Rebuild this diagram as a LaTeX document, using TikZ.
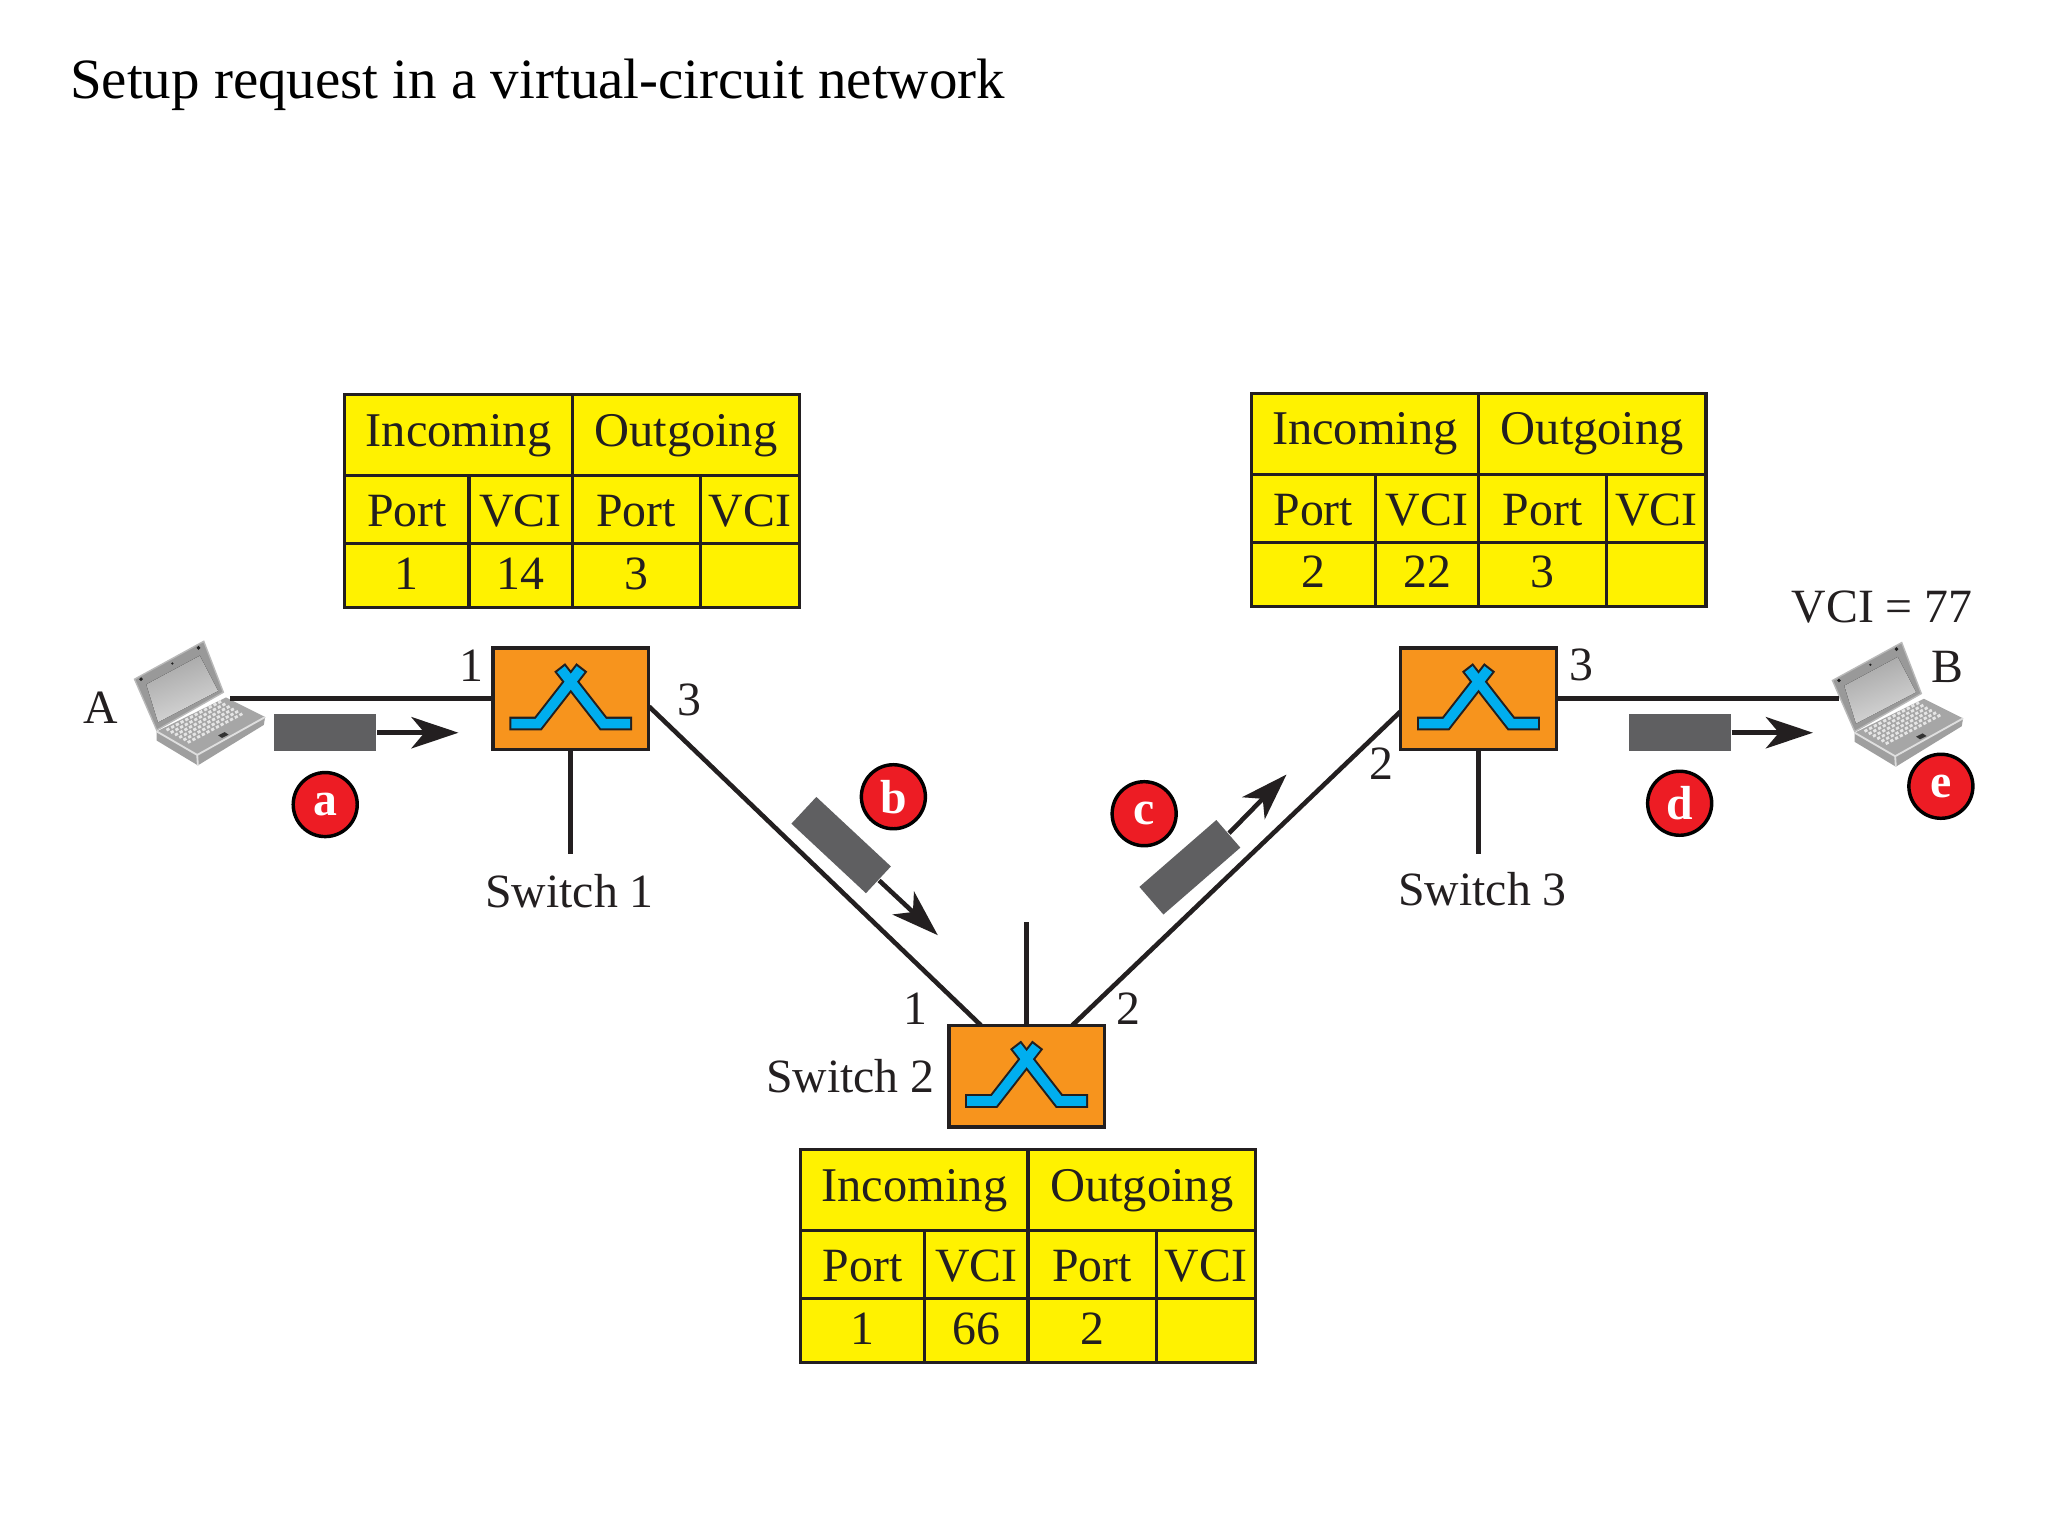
\documentclass[tikz,border=0pt]{standalone}
\usepackage{fontspec}
\setmainfont{Liberation Serif}
\usetikzlibrary{positioning,arrows.meta}

\definecolor{swOrange}{HTML}{F7941D}
\definecolor{swBlue}{HTML}{00AEEF}
\definecolor{tabYellow}{HTML}{FFF200}
\definecolor{stepRed}{HTML}{ED1C24}
\definecolor{pktGray}{HTML}{5F5F61}
\definecolor{inkBlack}{HTML}{231F20}

\tikzset{
  lbl/.style={inner sep=0pt, text=inkBlack, font=\fontsize{10.4}{12}\selectfont},
  cell/.style={draw=inkBlack, fill=tabYellow, line width=.7pt, inner sep=0pt, outer sep=0pt,
    text=inkBlack, font=\fontsize{10.4}{12}\selectfont, text height=.26cm, text depth=.05cm, anchor=north west},
  headcell/.style={cell, font=\fontsize{10.55}{12}\selectfont, text height=.25cm, text depth=.08cm, minimum width=1.74cm, minimum height=.62cm},
  namecell/.style={cell, text height=.31cm, text depth=.05cm, minimum height=.52cm},
  link/.style={draw=inkBlack, line width=1pt},
  switch/.style={draw=inkBlack, fill=swOrange, line width=.75pt, minimum width=1.19cm, minimum height=.78cm, inner sep=0pt},
  packet/.style={fill=pktGray, minimum width=.78cm, minimum height=.28cm, inner sep=0pt},
  pktarrow/.style={draw=inkBlack, line width=1pt, -{Stealth[length=.36cm,width=.24cm,inset=.1cm]}},
  stepdot/.style={circle, draw=black, fill=stepRed, line width=.75pt, minimum size=.49cm, inner sep=0pt,
    text=white, font=\fontsize{10.4}{12}\selectfont\bfseries},
  swicon/.pic={
    \draw[inkBlack, line width=3pt, miter limit=10] (-47,19) -- (-25,19) -- (8.5,-24);
    \draw[inkBlack, line width=3pt, miter limit=10] (47,19) -- (25,19) -- (-8.5,-24);
    \draw[swBlue, line width=2.1pt] (-45.5,19) -- (-25,19) -- (7.5,-22.7);
    \draw[swBlue, line width=2.1pt] (45.5,19) -- (25,19) -- (-7.5,-22.7);
  },
  laptop/.pic={
    % lid
    \fill[gray!80, draw=gray!55, line width=.3pt] (101,518) -- (154,489) -- (169,528) -- (118,557) -- cycle;
    \fill[top color=gray!70, bottom color=gray!30, shading angle=20] (110,522) -- (151,500) -- (165,527) -- (119,551) -- cycle;
    \fill[gray!25!black] (106,518) circle (1.5) (150,494) circle (1.5) (130,506) circle (1);
    % base
    \fill[gray!75] (118,558) -- (149,576) -- (201,547) -- (200,553) -- (149.5,584) -- (118,565) -- cycle;
    \fill[gray!70] (118,558) -- (171,532) -- (201,547) -- (149,576) -- cycle;
    \draw[gray!25, line width=.4pt] (118,558) -- (149,576) -- (201,547) (149,576) -- (149.5,584);
    \foreach \i in {0,...,5} \foreach \j in {0,...,11}
      \draw[gray!20, line width=.6pt] ({125.5+\i*3.25+\j*3.6},{557+\i*1.9-\j*1.9}) -- ++(2.2,-1.15);
    \fill[black!80] (165,561) -- (170,558.5) -- (173,560.5) -- (168,563) -- cycle;
  }
}

% one forwarding table, #1 name, #2 #3 top left corner, #4 #5 #6 entries
\newcommand{\vctable}[6]{
  \node[headcell] (#1inc) at (#2,#3) {Incoming};
  \node[headcell] (#1out) at (#1inc.north east) {Outgoing};
  \node[namecell, minimum width=.95cm] (#1pi) at (#1inc.south west) {Port};
  \node[namecell, minimum width=.79cm] (#1vi) at (#1pi.north east) {VCI};
  \node[namecell, minimum width=.98cm] (#1po) at (#1vi.north east) {Port};
  \node[namecell, minimum width=.76cm] (#1vo) at (#1po.north east) {VCI};
  \node[cell, minimum width=.95cm, minimum height=.49cm] (#1a) at (#1pi.south west) {#4};
  \node[cell, minimum width=.79cm, minimum height=.49cm] (#1b) at (#1a.north east) {#5};
  \node[cell, minimum width=.98cm, minimum height=.49cm] (#1c) at (#1b.north east) {#6};
  \node[cell, minimum width=.76cm, minimum height=.49cm] (#1d) at (#1c.north east) {};
}

\begin{document}
\begin{tikzpicture}[x=.01cm, y=-.01cm]
    \useasboundingbox (0,0) rectangle (1568,1176);
    \fill[white] (0,0) rectangle (1568,1176);

    \node[anchor=west, inner sep=0pt, font=\fontsize{12.4}{14}\selectfont] (title) at (53,65) {Setup request in a virtual-circuit network};

    % tables
    \vctable{ta}{264}{302}{1}{14}{3}
    \vctable{tb}{613}{880}{1}{66}{2}
    \vctable{tc}{958}{301}{2}{22}{3}

    % free ends
    \coordinate (pcA) at (176,535);
    \coordinate (pcB) at (1408,535);
    \coordinate (s1out) at (497,541);
    \coordinate (s2in) at (751,785);
    \coordinate (s2out) at (821,785);
    \coordinate (s3in) at (1072,545);
    \coordinate (stub1) at (437,654);
    \coordinate (stub2) at (786,706);
    \coordinate (stub3) at (1132,654);

    % switches
    \node[switch] (sw1) at (437,535) {};
    \node[switch] (sw2) at (786,824) {};
    \node[switch] (sw3) at (1132,535) {};
    \pic at (sw1) {swicon};
    \pic at (sw2) {swicon};
    \pic at (sw3) {swicon};

    \pic at (2,2) {laptop};
    \pic at (1302,3) {laptop};

    \draw[link] (pcA) -- (sw1.west);
    \draw[link] (sw3.east) -- (pcB);
    \draw[link] (s1out) -- (s2in);
    \draw[link] (s2out) -- (s3in);
    \draw[link] (sw1.south) -- (stub1);
    \draw[link] (sw2.north) -- (stub2);
    \draw[link] (sw3.south) -- (stub3);

    % packets
    \node[packet] (pkta) at (249,561) {};
    \node[packet] (pktb) at (644,647) [rotate=-43] {};
    \node[packet] (pktc) at (911,664) [rotate=41] {};
    \node[packet] (pktd) at (1286,561) {};
    \coordinate (enda) at (351,561);
    \coordinate (endb) at (718,716);
    \coordinate (endc) at (985,593);
    \coordinate (endd) at (1388,561);
    \draw[pktarrow] (pkta.east) -- (enda);
    \draw[pktarrow] (pktb.east) -- (endb);
    \draw[pktarrow] (pktc.east) -- (endc);
    \draw[pktarrow] (pktd.east) -- (endd);

    % steps
    \node[stepdot] (stepa) at (249,616) {a};
    \node[stepdot] (stepb) at (684,610) {b};
    \node[stepdot] (stepc) at (876,623) {c};
    \node[stepdot] (stepd) at (1286,615) {d};
    \node[stepdot] (stepe) at (1486,602) {e};

    % labels
    \node[lbl] (lA) at (77,542) {A};
    \node[lbl] (lB) at (1491,511) {B};
    \node[lbl] (lvci) at (1441,465) {VCI = 77};
    \node[lbl] (a1) at (361,510) {1};
    \node[lbl] (a3) at (528,536) {3};
    \node[lbl] (b1) at (701,772) {1};
    \node[lbl] (b2) at (864,772) {2};
    \node[lbl] (c2) at (1058,585) {2};
    \node[lbl] (c3) at (1211,509) {3};
    \node[lbl] (ls1) at (436,682) {Switch 1};
    \node[lbl] (ls2) at (651,824) {Switch 2};
    \node[lbl] (ls3) at (1135,681) {Switch 3};
\end{tikzpicture}
\end{document}
